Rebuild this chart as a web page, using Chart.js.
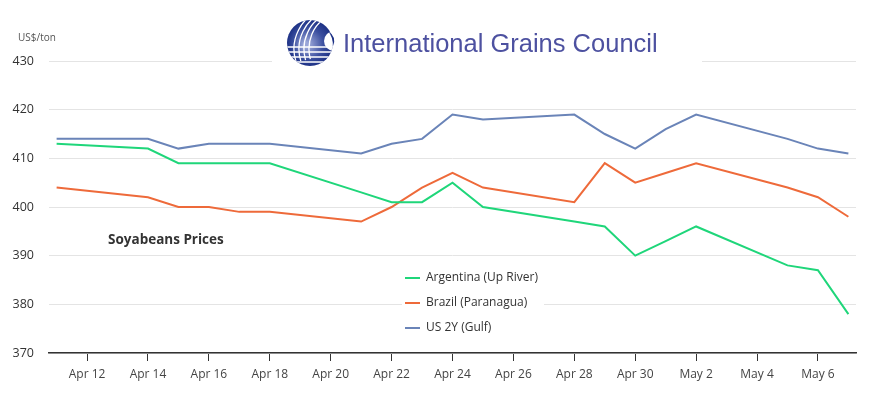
<!DOCTYPE html>
<html>
<head>
<meta charset="utf-8">
<script src="https://cdn.jsdelivr.net/npm/chart.js@4.4.1/dist/chart.umd.min.js"></script>
<style>
  html, body { margin: 0; padding: 0; background: #fff; }
  #chart { display: block; }
</style>
</head>
<body>
<canvas id="chart" width="879" height="399"></canvas>
<script>
// data
const dates = ['Apr 11', 'Apr 14', 'Apr 15', 'Apr 16', 'Apr 17', 'Apr 18', 'Apr 21', 'Apr 22', 'Apr 23', 'Apr 24',
               'Apr 25', 'Apr 28', 'Apr 29', 'Apr 30', 'May 1', 'May 2', 'May 5', 'May 6', 'May 7'];
const argentina = [413, 412, 409, 409, 409, 409, 403, 401, 401, 405, 400, 397, 396, 390, 393, 396, 388, 387, 378];
const brazil    = [404, 402, 400, 400, 399, 399, 397, 400, 404, 407, 404, 401, 409, 405, 407, 409, 404, 402, 398];
const usGulf    = [414, 414, 412, 413, 413, 413, 411, 413, 414, 419, 418, 419, 415, 412, 416, 419, 414, 412, 411];
const seriesNames = ['Argentina (Up River)', 'Brazil (Paranagua)', 'US 2Y (Gulf)'];
const seriesColors = ['#1fd67a', '#ee6a3a', '#6a84b8'];
const tickDates = ['Apr 12', 'Apr 14', 'Apr 16', 'Apr 18', 'Apr 20', 'Apr 22', 'Apr 24',
                   'Apr 26', 'Apr 28', 'Apr 30', 'May 2', 'May 4', 'May 6'];

// day number counted from Apr 1 (Apr 30 = 30, May 1 = 31)
function dayNum(s) {
    const p = s.split(' ');
    return (p[0] === 'May' ? 30 : 0) + Number(p[1]);
}
function dayLabel(v) {
    return v > 30 ? 'May ' + (v - 30) : 'Apr ' + v;
}
function points(values) {
    return values.map((v, i) => ({ x: dayNum(dates[i]), y: v }));
}

Chart.defaults.font.family = "'Open Sans', sans-serif";

// rough version of the IGC globe
function drawLogo(c) {
    const cx = 310, cy = 43, r = 23;
    c.save();
    c.beginPath();
    c.arc(cx, cy, r, 0, Math.PI * 2);
    c.clip();
    const g = c.createRadialGradient(cx - 4, cy + 2, 3, cx, cy, r);
    g.addColorStop(0, '#9aa6d8');
    g.addColorStop(0.6, '#3b4f9f');
    g.addColorStop(1, '#1d3185');
    c.fillStyle = g;
    c.fillRect(cx - r, cy - r, 2 * r, 2 * r);
    c.strokeStyle = '#fff';
    c.lineWidth = 1.3;
    for (let k = 1; k <= 4; k++) {
        c.beginPath();
        c.ellipse(cx + 26, cy + 6, 22 + k * 5, 30 + k * 3, 0, Math.PI * 0.9, Math.PI * 1.45);
        c.stroke();
    }
    for (let k = 0; k < 4; k++) {
        c.beginPath();
        c.moveTo(cx - r, cy + 4 + k * 5);
        c.lineTo(cx + r, cy + 4 + k * 5);
        c.stroke();
    }
    // white gap on the right side
    c.fillStyle = '#fff';
    c.beginPath();
    c.arc(cx + 24, cy - 2, 10, 0, Math.PI * 2);
    c.fill();
    c.restore();
    // small swoosh on the right
    c.fillStyle = '#1d3185';
    c.beginPath();
    c.moveTo(cx + 18, cy - 12);
    c.quadraticCurveTo(cx + 27, cy - 6, cx + 23, cy + 3);
    c.quadraticCurveTo(cx + 23, cy - 6, cx + 18, cy - 12);
    c.fill();
    c.restore();
}

const decor = {
    id: 'decor',
    beforeDatasetsDraw(chart) {
        const c = chart.ctx;
        c.save();
        c.fillStyle = '#fff';
        c.fillRect(272, 8, 430, 62);   // box behind logo
        c.fillRect(402, 262, 142, 78); // legend box
        c.restore();
    },
    afterDraw(chart) {
        const c = chart.ctx;
        drawLogo(c);
        c.save();
        c.fillStyle = '#4d51a0';
        c.font = "25.5px 'Liberation Sans', Arial, sans-serif";
        c.textBaseline = 'alphabetic';
        c.fillText('International Grains Council', 343, 52);

        c.fillStyle = '#555';
        c.font = "10px 'Open Sans', sans-serif";
        c.textBaseline = 'middle';
        c.fillText('US$/ton', 18, 38);

        c.fillStyle = '#333';
        c.font = "bold 13.5px 'Open Sans', sans-serif";
        c.fillText('Soyabeans Prices', 108, 240);

        // legend
        c.font = "12px 'Open Sans', sans-serif";
        seriesNames.forEach((name, i) => {
            const y = 278 + i * 25;
            c.strokeStyle = seriesColors[i];
            c.lineWidth = 2;
            c.beginPath();
            c.moveTo(405, y);
            c.lineTo(420, y);
            c.stroke();
            c.fillStyle = '#333';
            c.fillText(name, 426, y);
        });
        c.restore();
    }
};

const series = [argentina, brazil, usGulf];

new Chart(document.getElementById('chart'), {
    type: 'line',
    data: {
        datasets: series.map((vals, i) => ({
            label: seriesNames[i],
            data: points(vals),
            borderColor: seriesColors[i],
            backgroundColor: seriesColors[i],
            borderWidth: 2,
            pointRadius: 0,
            tension: 0,
            fill: false
        }))
    },
    options: {
        responsive: false,
        animation: false,
        layout: { padding: { top: 61, right: 23, left: 0, bottom: 0 } },
        plugins: { legend: { display: false }, tooltip: { enabled: false } },
        scales: {
            x: {
                type: 'linear',
                min: 10.75,
                max: 37.25,
                afterFit: s => { s.height = 46; },
                afterBuildTicks: s => { s.ticks = tickDates.map(d => ({ value: dayNum(d) })); },
                grid: { drawOnChartArea: false, drawTicks: true, tickLength: 8, color: '#333' },
                border: { display: true, color: '#333', width: 1.5 },
                ticks: {
                    callback: v => dayLabel(v),
                    color: '#444',
                    font: { size: 12 },
                    padding: 6,
                    maxRotation: 0,
                    autoSkip: false
                }
            },
            y: {
                min: 370,
                max: 430,
                afterFit: s => { s.width = 49; },
                grid: { color: '#e4e4e4', drawTicks: false },
                border: { display: false },
                ticks: { stepSize: 10, color: '#333', font: { size: 12.5 }, padding: 15 }
            }
        }
    },
    plugins: [decor]
});
</script>
</body>
</html>
